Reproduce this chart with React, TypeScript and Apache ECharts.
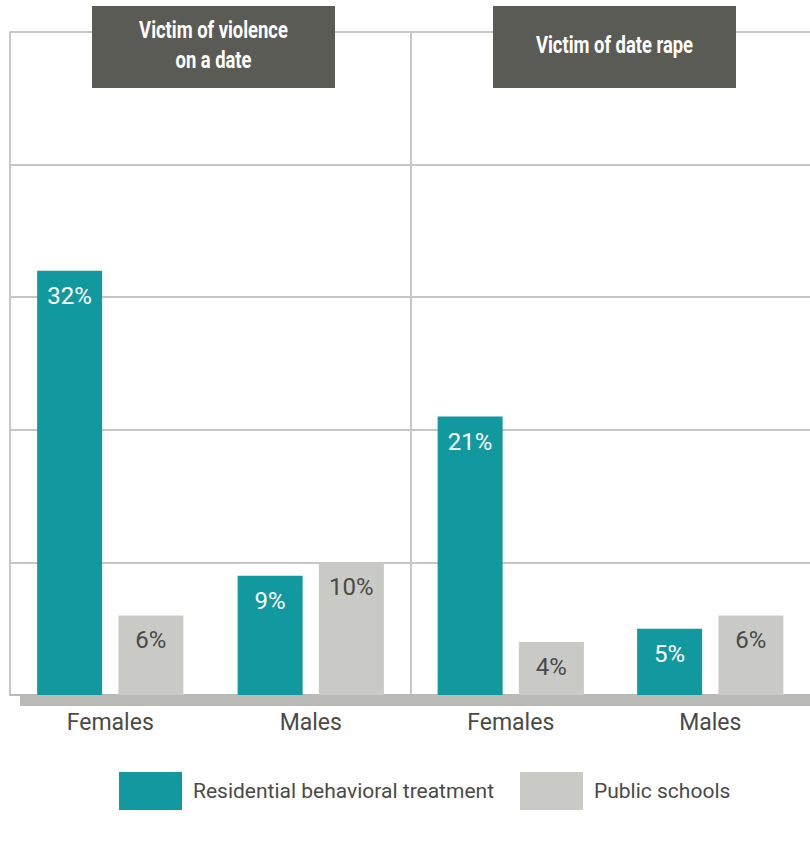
import React, { useEffect, useRef } from "react";
import * as echarts from "echarts";

const categories = ["Females", "Males"];
const panelTitles = ["Victim of violence\non a date", "Victim of date rape"];
const seriesNames = ["Residential behavioral treatment", "Public schools"];
const violenceResidential = [32, 9];
const violencePublic = [6, 10];
const rapeResidential = [21, 5];
const rapePublic = [4, 6];

const TEAL = "#12989f";
const GRAY = "#c9c9c5";
const DARK = "#4a4a47";
const GRID = "#c6c6c4";
const FONT = "Roboto, 'Liberation Sans', sans-serif";

export default function App() {
  const ref = useRef<HTMLDivElement>(null);
  useEffect(() => {
    if (!ref.current) return;
    const chart = echarts.init(ref.current, undefined, { renderer: "svg" });
    const grids = [
      { left: 10, top: 32, width: 401, height: 663 },
      { left: 411, top: 32, width: 401, height: 663 },
    ];
    const xAxes = grids.map((_, i) => ({
      type: "category",
      gridIndex: i,
      data: categories,
      axisTick: { show: false },
      axisLine: { show: true, lineStyle: { color: "#b5b5b2", width: 1.5 } },
      axisLabel: { color: DARK, fontSize: 23, fontFamily: FONT, margin: 16 },
    }));
    const yAxes = grids.map((_, i) => ({
      type: "value",
      gridIndex: i,
      min: 0,
      max: 50,
      interval: 10,
      axisLabel: { show: false },
      axisTick: { show: false },
      axisLine: { show: true, lineStyle: { color: GRID, width: 2 } },
      splitLine: { show: true, lineStyle: { color: GRID, width: 2 } },
    }));
    const mk = (name: string, data: number[], idx: number, color: string, labelColor: string) => ({
      type: "bar",
      name,
      data,
      xAxisIndex: idx,
      yAxisIndex: idx,
      barWidth: 65,
      barGap: "25%",
      itemStyle: { color },
      label: {
        show: true,
        position: "insideTop",
        distance: 13,
        formatter: "{c}%",
        color: labelColor,
        fontSize: 24,
        fontFamily: FONT,
      },
    });
    const titleBox = (cx: number, text: string) => ({
      type: "group",
      children: [
        {
          type: "rect",
          shape: { x: cx - 121.5, y: 6, width: 243, height: 82 },
          style: { fill: "#5b5b56" },
          z: 10,
        },
        {
          type: "text",
          x: cx,
          y: 45,
          scaleX: 0.8,
          z: 11,
          style: {
            text,
            fill: "#ffffff",
            fontSize: 23,
            fontWeight: "bold",
            fontFamily: FONT,
            align: "center",
            verticalAlign: "middle",
            lineHeight: 30,
          },
        },
      ],
    });
    const legendBase = {
      top: 772,
      padding: 0,
      itemWidth: 63,
      itemHeight: 38,
      icon: "rect",
      textStyle: { color: DARK, fontSize: 21, fontFamily: FONT, padding: [12, 0, 0, 6] },
      selectedMode: false,
    };
    chart.setOption({
      animation: false,
      grid: grids,
      xAxis: xAxes,
      yAxis: yAxes,
      legend: [
        { ...legendBase, left: 119, data: [seriesNames[0]] },
        { ...legendBase, left: 520, data: [seriesNames[1]] },
      ],
      series: [
        mk(seriesNames[0], violenceResidential, 0, TEAL, "#ffffff"),
        mk(seriesNames[1], violencePublic, 0, GRAY, DARK),
        mk(seriesNames[0], rapeResidential, 1, TEAL, "#ffffff"),
        mk(seriesNames[1], rapePublic, 1, GRAY, DARK),
      ],
      graphic: [
        {
          type: "rect",
          shape: { x: 20, y: 695, width: 800, height: 11 },
          style: { fill: "#b9b9b6" },
          z: 0,
        },
        titleBox(213.5, panelTitles[0]),
        titleBox(614.5, panelTitles[1]),
      ],
    });
    return () => chart.dispose();
  }, []);
  return <div ref={ref} style={{ width: 810, height: 843, position: "absolute", left: 0, top: 0 }} />;
}
